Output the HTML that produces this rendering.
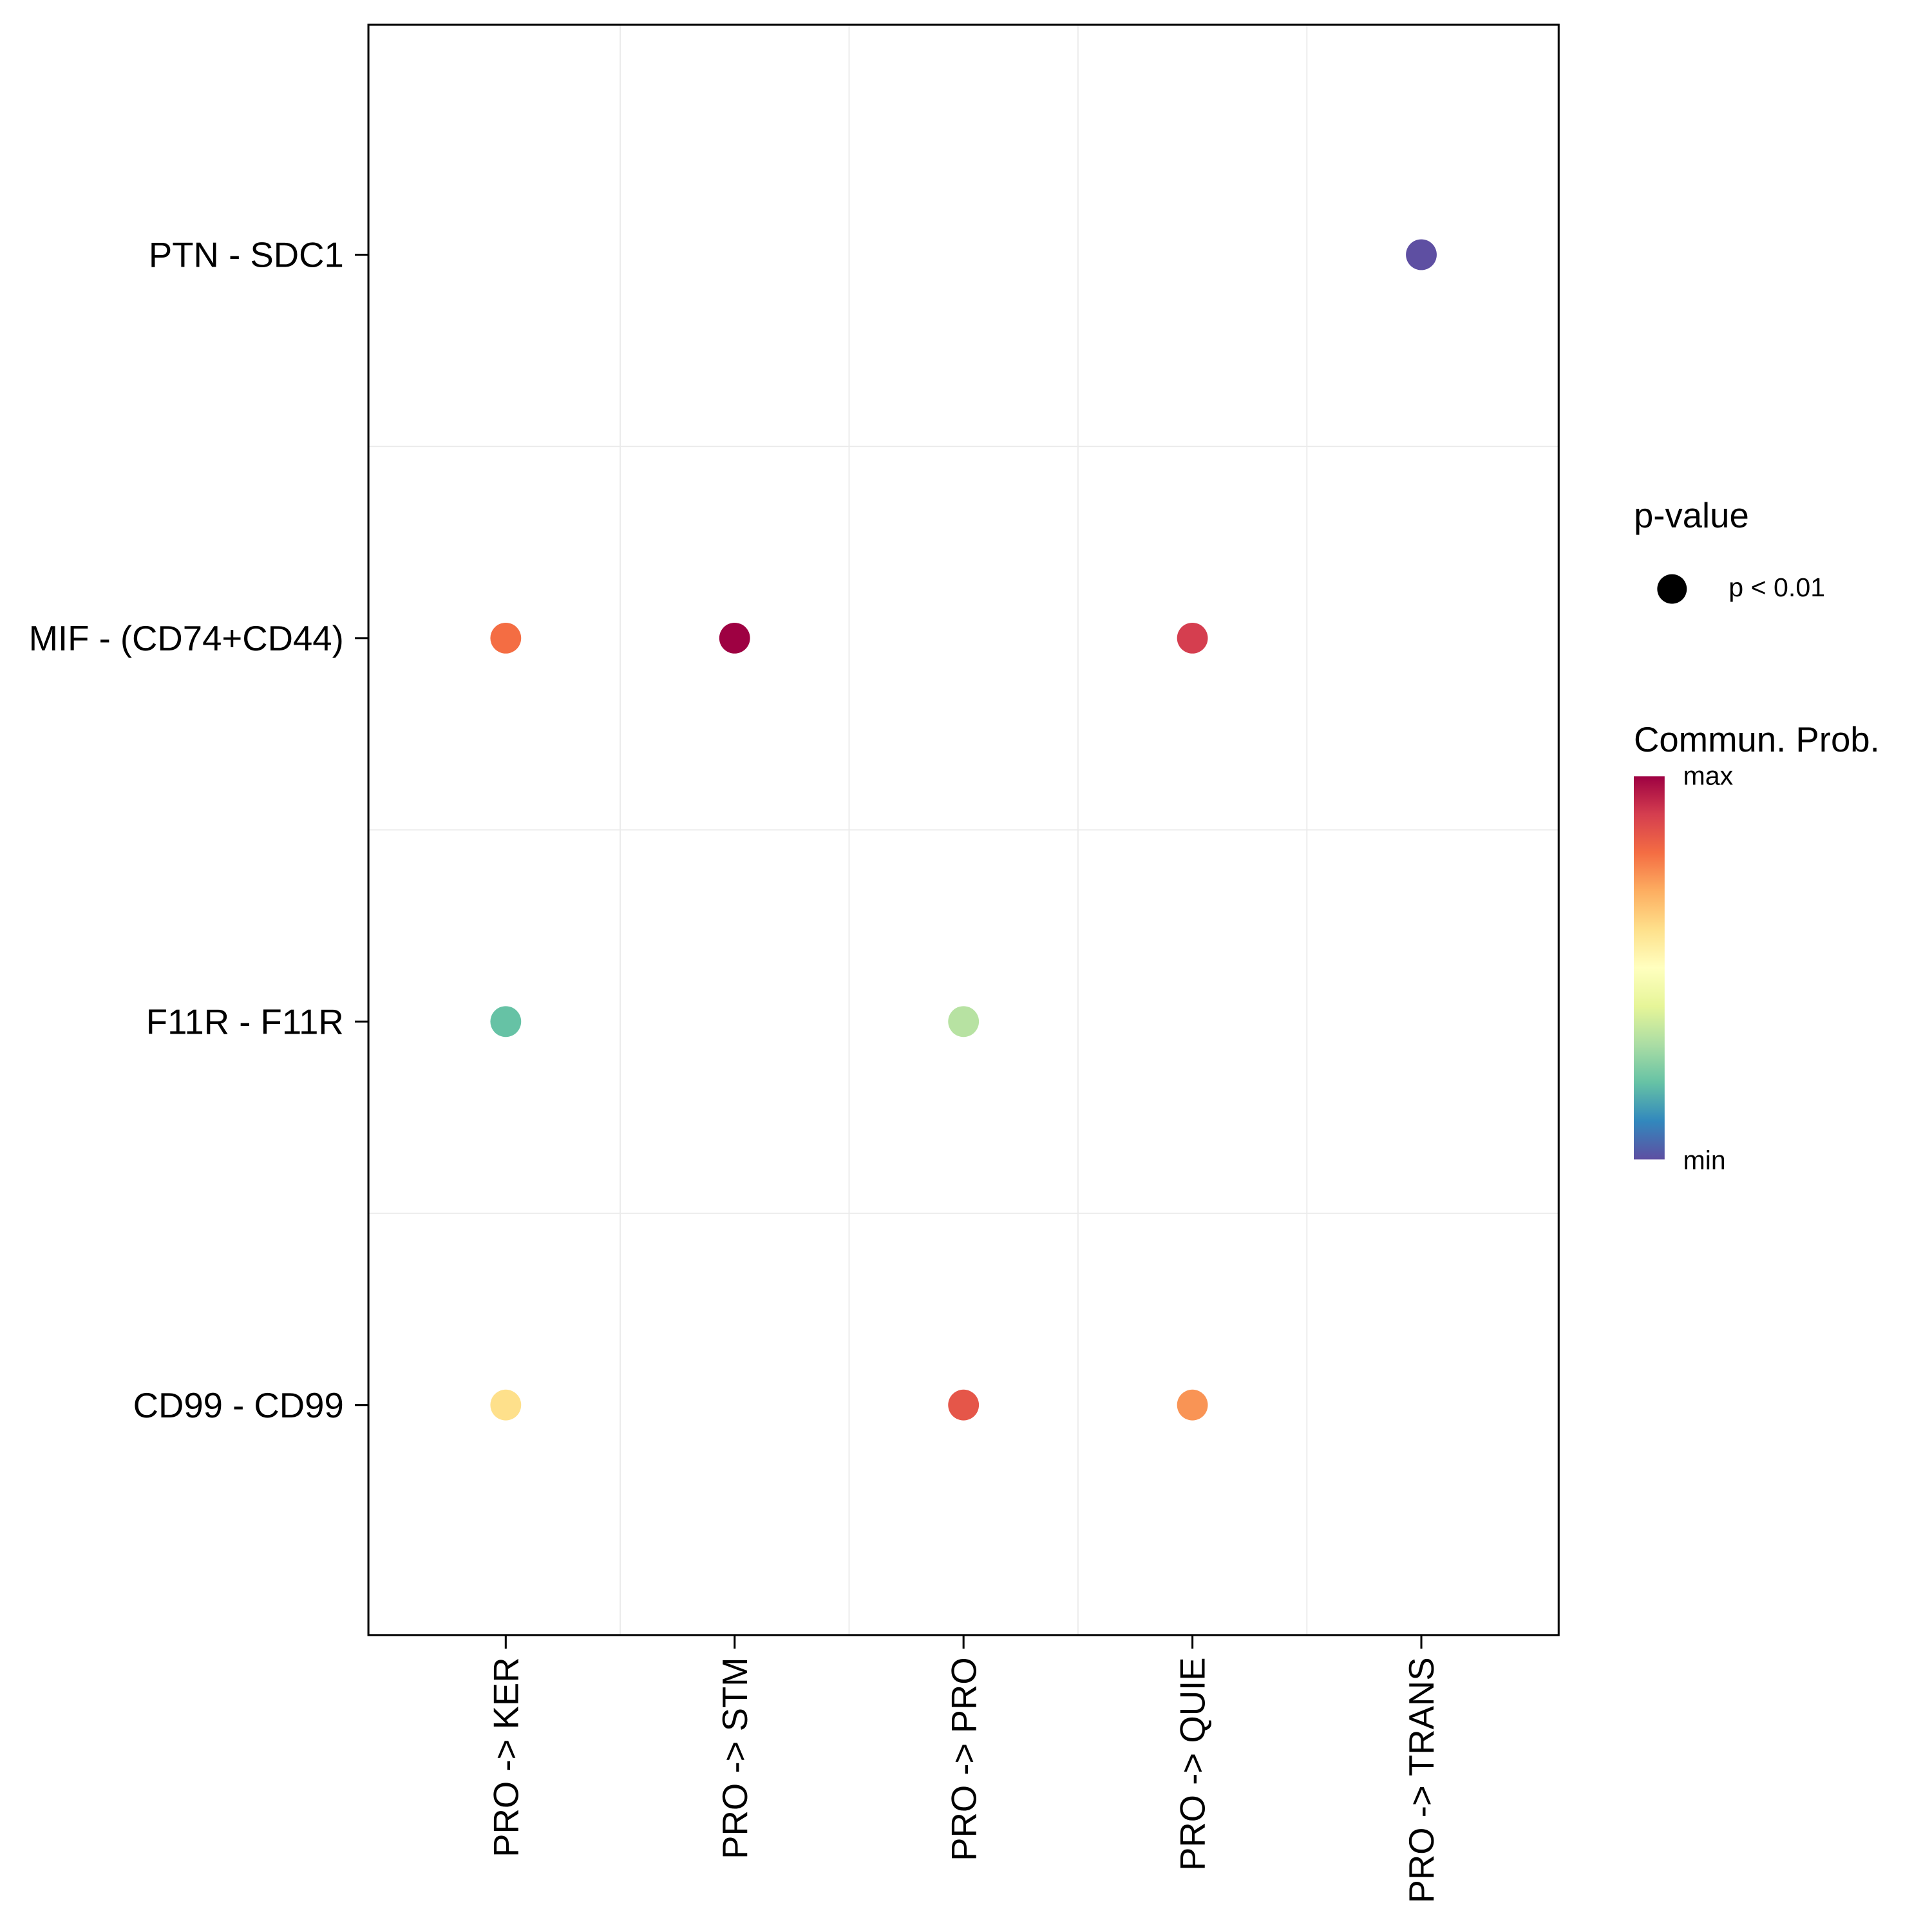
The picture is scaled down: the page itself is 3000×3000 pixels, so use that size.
<!DOCTYPE html>
<html><head><meta charset="utf-8"><style>
html,body{margin:0;padding:0;background:#fff;}
svg{display:block;}
text{font-family:"Liberation Sans",sans-serif;fill:#000;}
</style></head><body>
<svg id="chart" width="3000" height="3000" viewBox="0 0 1568 1568" preserveAspectRatio="none" xmlns="http://www.w3.org/2000/svg">
<defs>
<linearGradient id="spec" x1="0" y1="1" x2="0" y2="0">
<stop offset="0" stop-color="#5E4FA2"/><stop offset="0.1" stop-color="#3288BD"/><stop offset="0.2" stop-color="#66C2A5"/><stop offset="0.3" stop-color="#ABDDA4"/><stop offset="0.4" stop-color="#E6F598"/><stop offset="0.5" stop-color="#FFFFBF"/><stop offset="0.6" stop-color="#FEE08B"/><stop offset="0.7" stop-color="#FDAE61"/><stop offset="0.8" stop-color="#F46D43"/><stop offset="0.9" stop-color="#D53E4F"/><stop offset="1" stop-color="#9E0142"/>
</linearGradient>
</defs>
<g id="grid"></g>
<g id="points"></g>
<rect x="299" y="20" width="966" height="1307" fill="none" stroke="#000" stroke-width="1.6"/>
<g id="axes"></g>
<g>
<text x="1326" y="428" font-size="28.5">p-value</text>
<circle cx="1357" cy="478" r="12" fill="#000"/>
<text x="1403" y="484" font-size="21.5">p &lt; 0.01</text>
</g>
<g>
<text x="1326" y="610" font-size="28.5">Commun. Prob.</text>
<rect x="1326" y="630" width="25" height="311" fill="url(#spec)"/>
<text x="1366" y="637" font-size="21.5">max</text>
<text x="1366" y="949" font-size="21.5">min</text>
</g>
</svg>
<script>
const categories = ["PRO -> KER","PRO -> STM","PRO -> PRO","PRO -> QUIE","PRO -> TRANS"];
const rows = ["PTN - SDC1","MIF - (CD74+CD44)","F11R - F11R","CD99 - CD99"];
const pointX = ["PRO -> TRANS","PRO -> KER","PRO -> STM","PRO -> QUIE","PRO -> KER","PRO -> PRO","PRO -> KER","PRO -> PRO","PRO -> QUIE"];
const pointY = ["PTN - SDC1","MIF - (CD74+CD44)","MIF - (CD74+CD44)","MIF - (CD74+CD44)","F11R - F11R","F11R - F11R","CD99 - CD99","CD99 - CD99","CD99 - CD99"];
const prob = [0.0,0.8,1.0,0.9,0.2,0.32,0.6,0.85,0.74];

const NS="http://www.w3.org/2000/svg";
const px0=299,px1=1265,py0=20,py1=1327,EXP=0.6;
const dx=(px1-px0)/(categories.length-1+2*EXP), dy=(py1-py0)/(rows.length-1+2*EXP);
function xIdx(i){return px0+dx*(EXP+i);}
function yIdx(i){return py0+dy*(EXP+i);}
function xScale(c){return xIdx(categories.indexOf(c));}
function yScale(r){return yIdx(rows.indexOf(r));}
const pal=["#5E4FA2","#3288BD","#66C2A5","#ABDDA4","#E6F598","#FFFFBF","#FEE08B","#FDAE61","#F46D43","#D53E4F","#9E0142"];
function hex(h){return [1,3,5].map(i=>parseInt(h.substr(i,2),16));}
function color(v){const t=Math.max(0,Math.min(1,v))*10;const i=Math.min(9,Math.floor(t));const f=t-i;const a=hex(pal[i]),b=hex(pal[i+1]);return "rgb("+a.map((x,k)=>Math.round(x+(b[k]-x)*f)).join(",")+")";}
function mk(tag,attrs,parent){const e=document.createElementNS(NS,tag);for(const k in attrs)e.setAttribute(k,attrs[k]);parent.appendChild(e);return e;}
const grid=document.getElementById('grid'),pts=document.getElementById('points'),axes=document.getElementById('axes');
for(let i=0;i<categories.length-1;i++){const x=xIdx(i+0.5);
 const l=mk('line',{x1:x,x2:x,y1:py0,y2:py1,stroke:'#ebebeb','stroke-width':1},grid);
 
 }
for(let i=0;i<rows.length-1;i++){const y=yIdx(i+0.5);
 const l=mk('line',{x1:px0,x2:px1,y1:y,y2:y,stroke:'#ebebeb','stroke-width':1},grid);
 
 }
for(let i=0;i<prob.length;i++){
 const c=mk('circle',{cx:xScale(pointX[i]),cy:yScale(pointY[i]),r:12.5,fill:color(prob[i])},pts);
 
 }
rows.forEach(r=>{const y=yScale(r);
 const t=mk('line',{x1:288,x2:299,y1:y,y2:y,stroke:'#000','stroke-width':1.6},axes);
 
 
 const tx=mk('text',{x:279,y:y+10,'text-anchor':'end','font-size':28.5},axes);tx.textContent=r;
 
 });
categories.forEach(c=>{const x=xScale(c);
 const t=mk('line',{x1:x,x2:x,y1:1327,y2:1338,stroke:'#000','stroke-width':1.6},axes);
 
 
 const tx=mk('text',{x:0,y:0,'text-anchor':'end','font-size':28.5,transform:'translate('+(x+10)+',1345) rotate(-90)'},axes);tx.textContent=c;
 
 });
</script>
</body></html>
